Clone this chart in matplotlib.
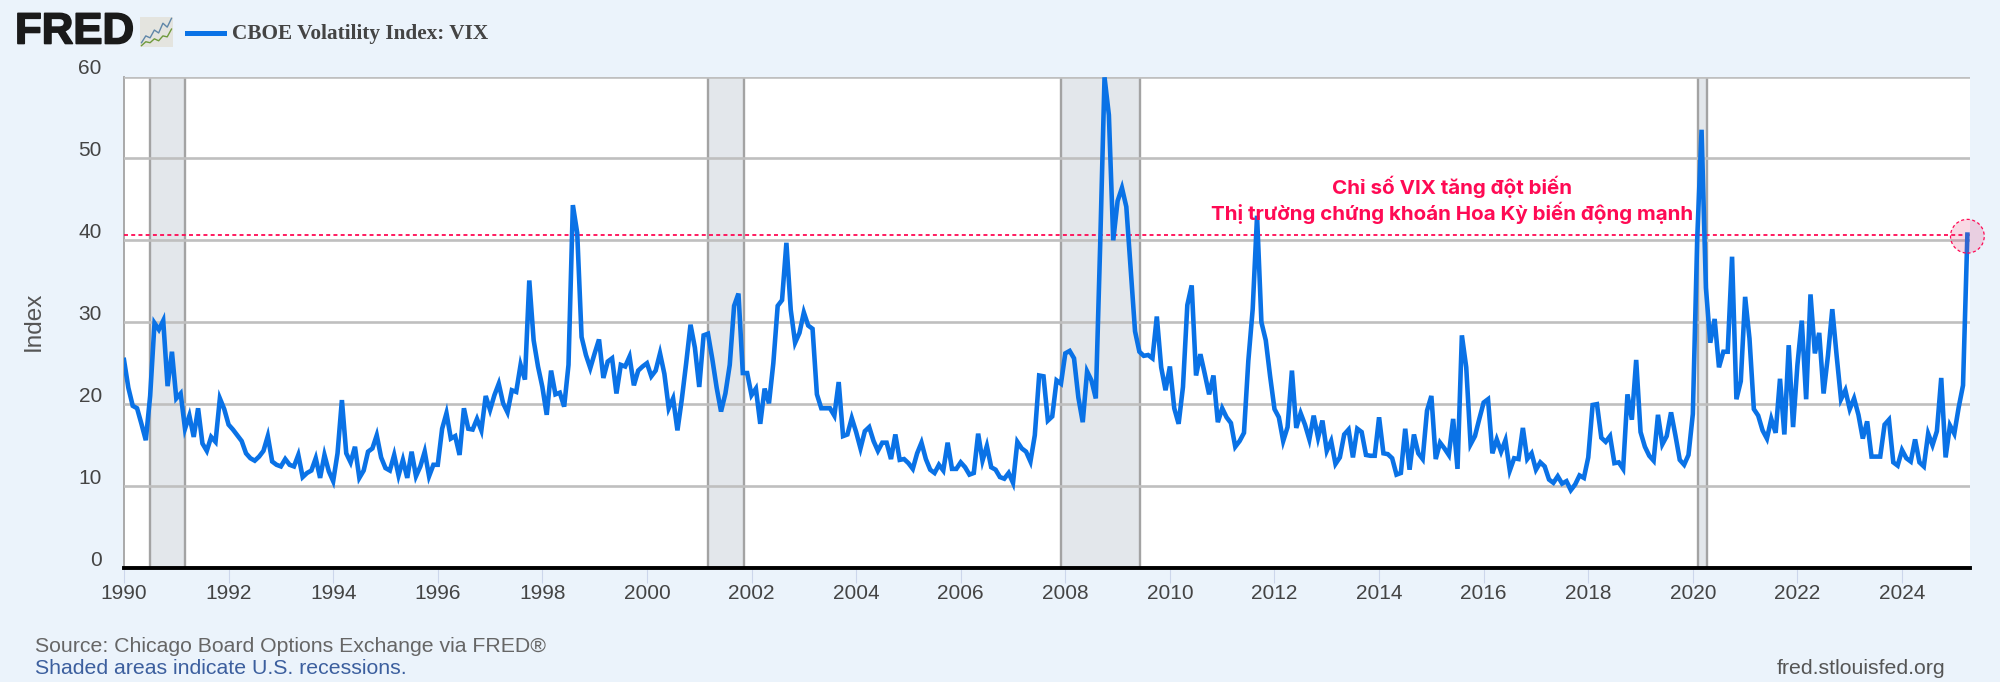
import numpy as np
import matplotlib
matplotlib.use("Agg")
import matplotlib.pyplot as plt
import matplotlib.patheffects as pe
from matplotlib.transforms import ScaledTranslation

# monthly values, Jan 1990 onwards
vix_1990s = [
    25.4, 22.0, 19.8, 19.5, 17.6, 15.6, 21.0, 29.9, 29.1, 30.2, 22.2, 26.4,
    20.7, 21.3, 17.0, 18.6, 16.0, 19.5, 15.2, 14.3, 16.0, 15.4, 20.7, 19.4,
    17.5, 16.9, 16.2, 15.5, 14.0, 13.4, 13.1, 13.6, 14.3, 16.1, 13.0, 12.6,
    12.4, 13.3, 12.6, 12.4, 13.8, 11.1, 11.6, 11.9, 13.4, 11.0, 13.8, 11.8,
    10.6, 14.0, 20.5, 14.0, 12.9, 14.8, 11.0, 11.9, 14.2, 14.6, 16.2, 13.5,
    12.2, 11.9, 13.8, 11.3, 13.2, 11.0, 14.2, 11.2, 12.4, 14.2, 11.2, 12.6,
    12.6, 17.0, 18.9, 15.8, 16.1, 13.8, 19.5, 17.0, 16.9, 18.2, 16.8, 21.0,
    19.3, 21.1, 22.5, 20.1, 19.0, 21.7, 21.5, 24.8, 23.0, 35.1, 27.8, 24.6,
    22.1, 18.7, 24.1, 21.2, 21.4, 19.7, 24.8, 44.3, 40.9, 28.2, 26.0, 24.4,
    26.2, 27.9, 23.2, 25.2, 25.6, 21.3, 24.8, 24.6, 25.8, 22.3, 24.1, 24.6,
]
vix_2000s = [
    25.0, 23.4, 24.1, 26.2, 23.7, 19.5, 20.7, 16.8, 20.6, 25.0, 29.7, 26.9,
    22.1, 28.4, 28.6, 25.5, 22.0, 19.1, 21.3, 24.8, 32.0, 33.5, 23.8, 23.8,
    21.1, 21.9, 17.6, 21.9, 20.1, 25.0, 32.0, 32.7, 39.7, 31.5, 27.5, 28.7,
    31.2, 29.6, 29.2, 21.2, 19.5, 19.5, 19.5, 18.6, 22.7, 16.1, 16.3, 18.3,
    16.6, 14.6, 16.7, 17.2, 15.5, 14.3, 15.3, 15.3, 13.3, 16.3, 13.2, 13.3,
    12.8, 12.1, 14.0, 15.3, 13.3, 12.0, 11.6, 12.6, 11.9, 15.3, 12.1, 12.1,
    12.9, 12.3, 11.4, 11.6, 16.4, 13.1, 14.9, 12.3, 12.0, 11.1, 10.9, 11.6,
    10.4, 15.4, 14.6, 14.2, 13.0, 16.2, 23.5, 23.4, 18.0, 18.5, 22.9, 22.5,
    26.2, 26.5, 25.6, 20.8, 17.8, 24.0, 22.9, 20.7, 39.4, 59.9, 55.3, 40.0,
    44.8, 46.4, 44.1, 36.5, 28.9, 26.4, 25.9, 26.0, 25.6, 30.7, 24.5, 21.7,
]
vix_2010s = [
    24.6, 19.5, 17.6, 22.1, 32.1, 34.5, 23.5, 26.1, 23.7, 21.2, 23.5, 17.8,
    19.5, 18.4, 17.7, 14.8, 15.5, 16.5, 25.3, 31.6, 43.0, 30.0, 27.8, 23.4,
    19.4, 18.4, 15.5, 17.2, 24.1, 17.1, 18.9, 17.5, 15.7, 18.6, 15.9, 18.0,
    14.3, 15.5, 12.7, 13.5, 16.3, 16.9, 13.5, 17.0, 16.6, 13.8, 13.7, 13.7,
    18.4, 14.0, 13.9, 13.4, 11.4, 11.6, 17.0, 12.0, 16.3, 14.0, 13.3, 19.2,
    21.0, 13.3, 15.3, 14.6, 13.8, 18.2, 12.1, 28.4, 24.5, 15.1, 16.1, 18.2,
    20.2, 20.6, 14.0, 15.7, 14.2, 15.6, 11.9, 13.4, 13.3, 17.1, 13.3, 14.0,
    12.0, 12.9, 12.4, 10.8, 10.4, 11.2, 10.3, 10.6, 9.5, 10.2, 11.3, 11.0,
    13.5, 19.9, 20.0, 15.9, 15.4, 16.1, 12.8, 12.9, 12.1, 21.2, 18.1, 25.4,
    16.6, 14.8, 13.7, 13.1, 18.7, 15.1, 16.1, 19.0, 16.2, 13.2, 12.6, 13.8,
]
vix_2020s = [
    18.8, 40.1, 53.5, 34.2, 27.5, 30.4, 24.5, 26.4, 26.4, 38.0, 20.6, 22.8,
    33.1, 28.0, 19.4, 18.6, 16.8, 15.8, 18.2, 16.5, 23.1, 16.3, 27.2, 17.2,
    24.8, 30.2, 20.6, 33.4, 26.2, 28.7, 21.3, 25.9, 31.6, 25.9, 20.6, 21.7,
    19.4, 20.7, 18.7, 15.8, 17.9, 13.6, 13.6, 13.6, 17.5, 18.1, 12.9, 12.5,
    14.4, 13.4, 13.0, 15.7, 12.9, 12.4, 16.4, 15.0, 16.7, 23.2, 13.5, 17.4,
    16.4, 19.6, 22.3, 40.7,
]
vix = vix_1990s + vix_2000s + vix_2010s + vix_2020s
years = 1990 + np.arange(len(vix)) / 12

recessions = [(1990.5, 1991.16), (2001.16, 2001.85), (2007.92, 2009.42), (2020.09, 2020.27)]
year_ticks = list(range(1990, 2025, 2))
index_ticks = [0, 10, 20, 30, 40, 50, 60]

series_name = "CBOE Volatility Index: VIX"
note_lines = ["Chỉ số VIX tăng đột biến", "Thị trường chứng khoán Hoa Kỳ biến động mạnh"]

# little logo picture next to FRED
logo_blue = [0.5, 1.2, 1.0, 1.8, 1.5, 2.5, 2.1, 3.0]
logo_green = [0.2, 0.6, 0.5, 0.9, 0.7, 1.2, 1.1, 1.9]

BG = "#ebf3fb"
BLUE = "#0a72e6"
PINK = "#ff0a54"

plt.rcParams["font.family"] = ["Liberation Sans", "DejaVu Sans"]

fig = plt.figure(figsize=(20, 6.82), dpi=100, facecolor=BG)
W, H = 2000, 682
ax = fig.add_axes([124 / W, 1 - 568 / H, 1846 / W, (568 - 76.5) / H], facecolor="white")

for start, end in recessions:
    ax.axvspan(start, end, facecolor="#e3e7eb", edgecolor="none", zorder=1)
    ax.axvline(start, color="#a3a3a3", lw=1.7, zorder=1.5)
    ax.axvline(end, color="#a3a3a3", lw=1.7, zorder=1.5)

ax.set_xlim(1990, 2025.3)
ax.set_ylim(0, 60)
ax.set_yticks(index_ticks)
ax.set_xticks(year_ticks)
ax.set_xticklabels([str(y) for y in year_ticks])
ax.grid(True, axis="y", color="#bfbfbf", lw=1.9, zorder=2)
ax.set_axisbelow(False)

ax.plot(years, vix, color=BLUE, lw=3.3, solid_joinstyle="miter", zorder=4)

# dotted level of the last value and the highlight circle
ax.axhline(vix[-1], color=PINK, lw=1.3, ls=(0, (2.2, 1.8)), zorder=3)
ax.scatter([years[-1]], [vix[-1] - 0.2], s=590, facecolor="#e0306e", alpha=0.18, edgecolor="none",
           clip_on=False, zorder=5)
ax.scatter([years[-1]], [vix[-1] - 0.2], s=590, facecolor="none", edgecolor=PINK, lw=0.9,
           linestyle=(0, (2.5, 2)), clip_on=False, zorder=5)

for side in ["top", "right"]:
    ax.spines[side].set_visible(False)
ax.spines["left"].set_color("#a3a3a3")
ax.spines["left"].set_linewidth(1.3)
ax.spines["bottom"].set_color("black")
ax.spines["bottom"].set_linewidth(2.8)
ax.spines["bottom"].set_zorder(6)

ax.tick_params(axis="x", length=11, width=0.8, color="#ccd6eb", labelsize=15, labelcolor="#444444", pad=0.5)
ax.tick_params(axis="y", length=0, labelsize=15, labelcolor="#444444", pad=16)

# y labels sit above their grid lines in the original
up = ScaledTranslation(0, 10 / 100, fig.dpi_scale_trans)
for lab in ax.get_yticklabels():
    lab.set_transform(lab.get_transform() + up)

fig.text(34 / W, 1 - 321 / H, "Index", rotation=90, fontsize=17.5, color="#555555", ha="center", va="center")

fred = fig.text(15 / W, 1 - 32 / H, "FRED", fontsize=31.5, fontweight="bold", color="#1a1a1a", ha="left", va="center")
fred.set_path_effects([pe.withStroke(linewidth=1.2, foreground="#1a1a1a")])
logo = fig.add_axes([140 / W, 1 - 47 / H, 33 / W, 30 / H], facecolor="#e4e4df")
logo.plot(logo_blue, color="#5f86a8", lw=1)
logo.plot(logo_green, color="#6f9a3c", lw=1)
logo.set_xticks([])
logo.set_yticks([])
for side in logo.spines:
    logo.spines[side].set_visible(False)

ax.plot([187 / W, 224 / W], [1 - 33 / H, 1 - 33 / H], transform=fig.transFigure, color=BLUE, lw=3.6,
        clip_on=False)
fig.text(232 / W, 1 - 33.5 / H, series_name, family="Liberation Serif", fontweight="bold", fontsize=15.3,
         color="#444444", ha="left", va="center")

fig.text(1452 / W, 1 - 187 / H, note_lines[0], family="Inter", fontweight="bold", fontsize=14.8, color=PINK,
         ha="center", va="center")
fig.text(1452 / W, 1 - 213 / H, note_lines[1], family="Inter", fontweight="bold", fontsize=14.8, color=PINK,
         ha="center", va="center")

fig.text(35 / W, 1 - 646 / H, "Source: Chicago Board Options Exchange via FRED®", fontsize=15.3, color="#666666",
         ha="left", va="center")
fig.text(35 / W, 1 - 668 / H, "Shaded areas indicate U.S. recessions.", fontsize=15.3, color="#3c5f9e",
         ha="left", va="center")
fig.text(1945 / W, 1 - 668 / H, "fred.stlouisfed.org", fontsize=15.3, color="#555555", ha="right", va="center")

fig.savefig("out.png", dpi=100, facecolor=BG)
plt.close(fig)
